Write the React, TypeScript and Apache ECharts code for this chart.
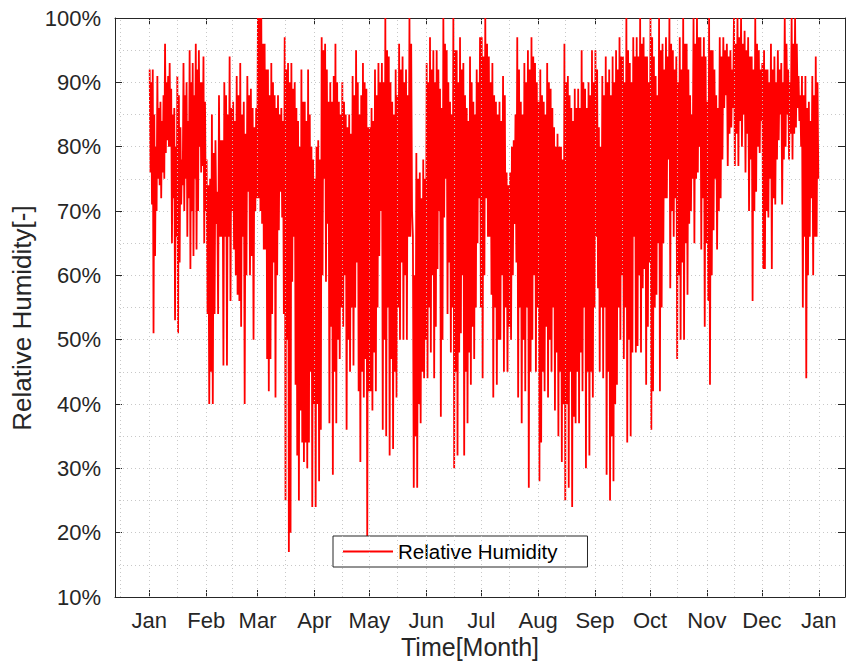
import React, { useEffect, useRef } from "react";
import * as echarts from "echarts";

// ---- axis definitions (days from Jan 1) ----
const monthStartDays = [0, 31, 59, 90, 120, 151, 181, 212, 243, 273, 304, 334, 365];
const monthLabels = ["Jan", "Feb", "Mar", "Apr", "May", "Jun", "Jul", "Aug", "Sep", "Oct", "Nov", "Dec", "Jan"];
const midMonthDays = [-16, 15, 45, 74, 105, 135, 166, 196, 227, 258, 288, 319, 349];
const xMin = -18.7;
const xMax = 379.3;
const yMin = 10;
const yMax = 100;
const yStep = 10;

// ---- relative humidity readings (%), alternating highs and lows, per month ----
const jan = [92,76,90,71,92,51,85,63,80,70,91,75,86,74,87,72,84,76,88,75,96,79,90,81,91,80,93,80,89,65,85,72,86,53,80,66,91,51,88,62,83,71,78,74,93,70,88,75,90,66,84,72,95,61,90,70,93,63,88,75,96,64,92,70,95,80,90,76,90,77,94,65,87,70];
const feb = [78,54,74,40,75,45,85,40,79,54,81,68,73,54,88,66,81,66,81,46,90,66,88,46,85,66,94,56,86,70,87,64,84,60,91,57,88,56,93,52,85,66,87,40,82,60,91,73,88,60,89,63,86,50,83,70,86,72];
const mar = [100,72,100,70,100,68,96,64,96,64,92,47,92,42,88,47,93,54,90,62,88,41,86,60,88,67,85,73,86,69,84,54,97,25,92,50,93,17,90,20,93,59,89,66,90,43,86,32,84,25,80,39,92,34,87,31,87,34,84,30,92,34,85,45,80,24,78,40];
const apr = [75,24,80,40,81,28,78,36,97,60,95,75,96,59,92,68,87,37,90,52,87,29,91,45,96,37,90,50,87,47,85,55,90,52,87,60,85,36,83,50,85,45,82,55,91,46,88,55,95,62,90,42,85,31,88,45,93,41,90,47,89,19,83,42];
const may = [83,42,86,39,84,48,92,42,88,55,93,63,90,70,93,36,90,50,100,35,95,55,94,32,90,47,87,33,85,45,92,41,88,55,96,50,92,62,94,50,90,60,92,50,88,66,100,66,96,70,66,27,60,35,79,27,75,40,76,37,72,45,78,44,75,50];
const jun = [93,44,90,55,97,48,92,60,95,44,90,52,95,61,92,70,89,38,86,50,100,69,96,75,95,54,90,62,87,48,85,55,100,30,95,45,95,32,90,48,97,51,92,60,93,32,88,45,86,37,84,48,94,43,90,52,87,47,85,55,92,65,90,72,97,55];
const jul = [97,44,94,60,100,72,96,66,94,66,90,57,93,41,88,55,87,43,85,50,87,50,84,60,91,45,88,55,76,45,74,52,76,50,80,60,81,68,85,62,97,41,92,55,87,37,85,50,93,42,90,55,95,27,92,45,97,50,94,60,93,45,90,55];
const aug = [87,28,92,34,88,45,87,42,85,52,93,41,90,50,89,45,86,55,83,39,80,48,82,35,80,45,80,31,78,40,96,25,90,40,91,27,88,45,86,24,84,38,89,37,86,45,89,37,86,48,95,42,90,55,89,30,86,45,90,32,88,45,95,41,90,55];
const sep = [95,66,92,58,83,45,80,55,91,44,88,55,94,29,90,45,92,25,88,35,94,28,90,40,95,43,92,55,97,50,94,60,94,47,90,55,100,34,95,50,93,35,90,48,97,66,94,48,97,49,94,60,100,48,96,58,97,61,94,43,94,52,90,62];
const oct = [100,36,97,42,94,55,91,57,88,65,100,42,95,55,96,65,92,72,97,72,94,78,100,58,96,70,95,66,92,72,94,47,90,60,97,50,92,62,100,50,96,65,96,57,92,68,88,70,85,75,100,65,96,75,100,76,97,80,97,64,94,72,97,52,94,65];
const nov = [87,56,100,43,95,60,95,67,92,75,88,64,86,70,97,72,94,78,97,86,95,88,96,77,94,82,95,83,92,86,100,77,96,82,100,77,97,84,100,80,96,85,98,76,95,82,97,70,94,78,94,56,92,70,100,73,96,80,95,79,92,84];
const dec = [93,61,95,61,92,70,92,69,90,75,96,61,92,72,94,71,90,78,95,81,92,85,93,71,90,78,100,80,96,85,92,78,90,82,100,78,96,82,100,83,96,86,91,84,88,80,91,55,88,66,91,44,86,60,87,66,84,72,91,60,88,66,94,66,90,75];
const monthlyRH = [jan, feb, mar, apr, may, jun, jul, aug, sep, oct, nov, dec];

const seriesName = "Relative Humidity";
const xTitle = "Time[Month]";
const yTitle = "Relative Humidity[-]";

const FONT = "'Liberation Sans', Arial, Helvetica, sans-serif";
const AXIS_COLOR = "#262626";
const GRID_COLOR = "#c8c8c8";

function buildPoints(): [number, number][] {
  const pts: [number, number][] = [];
  monthlyRH.forEach((vals, m) => {
    const start = monthStartDays[m];
    const len = monthStartDays[m + 1] - start;
    vals.forEach((v, i) => {
      pts.push([start + ((i + 0.5) * len) / vals.length, v]);
    });
  });
  return pts;
}

export default function App() {
  const ref = useRef<HTMLDivElement>(null);

  useEffect(() => {
    document.body.style.margin = "0";
    if (!ref.current) return;
    const chart = echarts.init(ref.current, null, { renderer: "svg" });
    const gridLineStyle = { color: GRID_COLOR, width: 1, type: [1, 3] as any };
    const vLines = [...monthStartDays, ...midMonthDays].map((d) => ({ xAxis: d }));

    chart.setOption({
      animation: false,
      color: ["#ff0000"],
      textStyle: { fontFamily: FONT },
      grid: { left: 115, right: 1, top: 18, bottom: 64, containLabel: false },
      legend: {
        data: [seriesName],
        left: 333,
        top: 536,
        orient: "horizontal",
        backgroundColor: "#ffffff",
        borderColor: AXIS_COLOR,
        borderWidth: 1,
        borderRadius: 0,
        padding: [5, 30, 5, 10],
        itemWidth: 50,
        itemHeight: 2,
        icon: "rect",
        selectedMode: false,
        textStyle: { fontSize: 20.5, color: "#000000", fontFamily: FONT, lineHeight: 21 },
      },
      xAxis: [
        {
          type: "value",
          position: "bottom",
          min: xMin,
          max: xMax,
          axisLine: { show: true, onZero: false, lineStyle: { color: AXIS_COLOR, width: 1 } },
          axisTick: { show: true, inside: true, length: 7, customValues: monthStartDays, lineStyle: { color: AXIS_COLOR } },
          axisLabel: {
            show: true,
            customValues: monthStartDays,
            margin: 12,
            fontSize: 22,
            color: AXIS_COLOR,
            fontFamily: FONT,
            formatter: (v: number) => {
              const idx = monthStartDays.indexOf(Math.round(v));
              return idx >= 0 ? monthLabels[idx] : "";
            },
          },
          splitLine: { show: false },
        },
        {
          type: "value",
          position: "top",
          min: xMin,
          max: xMax,
          axisLine: { show: true, onZero: false, lineStyle: { color: AXIS_COLOR, width: 1 } },
          axisTick: { show: true, inside: true, length: 7, customValues: monthStartDays, lineStyle: { color: AXIS_COLOR } },
          axisLabel: { show: false },
          splitLine: { show: false },
        },
      ],
      yAxis: [
        {
          type: "value",
          position: "left",
          min: yMin,
          max: yMax,
          interval: yStep,
          axisLine: { show: true, onZero: false, lineStyle: { color: AXIS_COLOR, width: 1 } },
          axisTick: { show: true, inside: true, length: 7, lineStyle: { color: AXIS_COLOR } },
          axisLabel: { formatter: "{value}%", fontSize: 22, color: AXIS_COLOR, margin: 14, fontFamily: FONT },
          splitLine: { show: true, lineStyle: gridLineStyle },
          minorTick: { show: false, splitNumber: 2 },
          minorSplitLine: { show: true, lineStyle: gridLineStyle },
        },
        {
          type: "value",
          position: "right",
          min: yMin,
          max: yMax,
          interval: yStep,
          axisLine: { show: true, onZero: false, lineStyle: { color: AXIS_COLOR, width: 1 } },
          axisTick: { show: true, inside: true, length: 7, lineStyle: { color: AXIS_COLOR } },
          axisLabel: { show: false },
          splitLine: { show: false },
        },
      ],
      graphic: [
        {
          type: "text",
          x: 470,
          y: 647,
          style: { text: xTitle, font: `25px ${FONT}`, fill: AXIS_COLOR, textAlign: "center", textVerticalAlign: "middle" },
        },
        {
          type: "text",
          x: 22,
          y: 318,
          rotation: Math.PI / 2,
          style: { text: yTitle, font: `26px ${FONT}`, fill: AXIS_COLOR, textAlign: "center", textVerticalAlign: "middle" },
        },
      ],
      series: [
        {
          name: "vgrid",
          type: "line",
          data: [],
          z: 1,
          silent: true,
          markLine: {
            silent: true,
            symbol: ["none", "none"],
            label: { show: false },
            lineStyle: gridLineStyle,
            emphasis: { disabled: true },
            data: vLines,
          },
        },
        {
          name: seriesName,
          type: "line",
          data: buildPoints(),
          showSymbol: false,
          symbol: "none",
          z: 3,
          lineStyle: { color: "#ff0000", width: 1.8 },
          itemStyle: { color: "#ff0000" },
          emphasis: { disabled: true },
        },
      ],
    });
    return () => chart.dispose();
  }, []);

  return <div ref={ref} style={{ width: 846, height: 661 }} />;
}
